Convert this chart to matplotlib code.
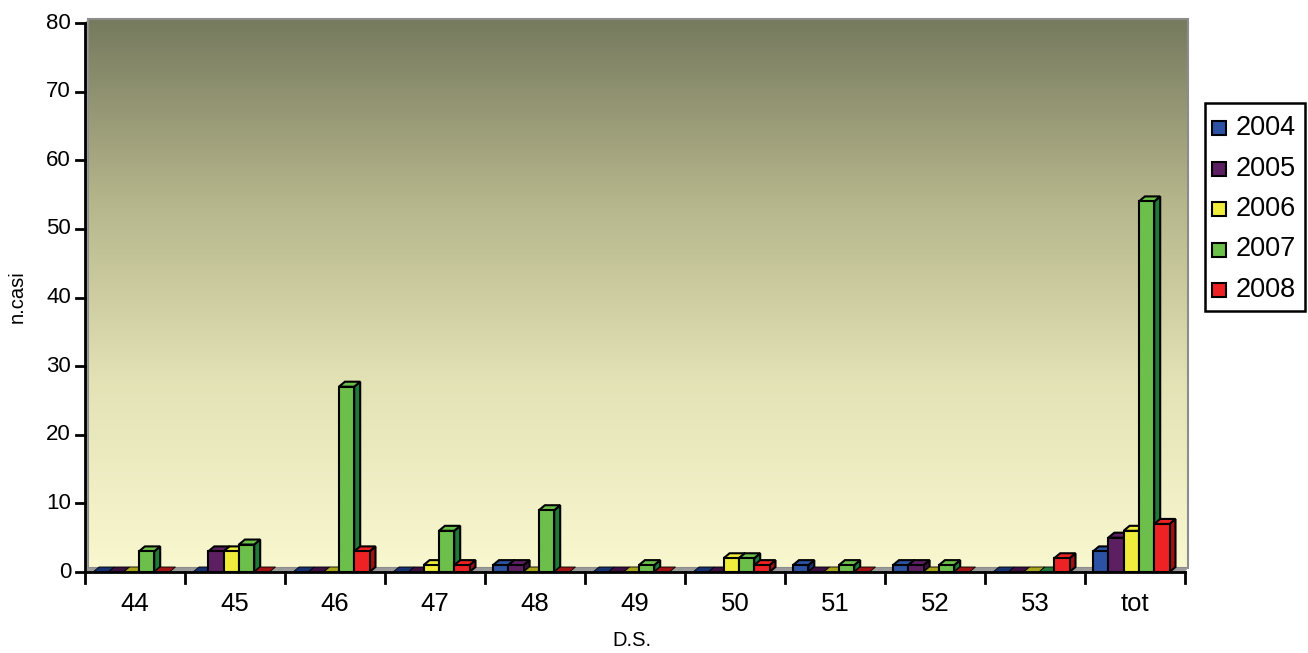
import numpy as np
import matplotlib
matplotlib.use("Agg")
import matplotlib.pyplot as plt
from matplotlib.patches import Polygon, Rectangle
from matplotlib.colors import LinearSegmentedColormap

plt.rcParams['font.family'] = ['Liberation Sans', 'DejaVu Sans']

# ---- data: cases per week (D.S.) and year ----
weeks = ['44', '45', '46', '47', '48', '49', '50', '51', '52', '53', 'tot']
years = ['2004', '2005', '2006', '2007', '2008']
cases_2004 = [0, 0, 0, 0, 1, 0, 0, 1, 1, 0, 3]
cases_2005 = [0, 3, 0, 0, 1, 0, 0, 0, 1, 0, 5]
cases_2006 = [0, 3, 0, 1, 0, 0, 2, 0, 0, 0, 6]
cases_2007 = [3, 4, 27, 6, 9, 1, 2, 1, 1, 0, 54]
cases_2008 = [0, 0, 3, 1, 0, 0, 1, 0, 0, 2, 7]
series = [cases_2004, cases_2005, cases_2006, cases_2007, cases_2008]

front_cols = ['#2d52a3', '#5c1f62', '#f0ec3c', '#6cbf4a', '#ee2224']
side_cols = ['#173070', '#3a0f40', '#a8a41c', '#1f7a3a', '#a01214']
y_ticks = np.arange(0, 81, 10)

W, H = 1308, 653
fig = plt.figure(figsize=(W / 100, H / 100), dpi=100)

# axes mapped so that 1 category = 100 px and 80 cases = 549 px
x_lo, x_hi = -0.1, 11.1
y_lo, y_hi = -0.5, 81.0
ppu_y = 549 / 80
left_px = 85 + x_lo * 100
bottom_px = 572 - y_lo * ppu_y
top_px = 572 - y_hi * ppu_y
ax = fig.add_axes([left_px / W, (H - bottom_px) / H,
                   (x_hi - x_lo) * 100 / W, (bottom_px - top_px) / H])
ax.set_xlim(x_lo, x_hi)
ax.set_ylim(y_lo, y_hi)
ax.axis('off')

n = len(weeks)
wdx, wdy = 0.03, 0.6       # wall depth
bdx, bdy = 0.06, 0.73      # bar depth
bw = 0.153

# back wall with gradient
grad = LinearSegmentedColormap.from_list('wall', ['#f8f7cf', '#e4e3b6', '#b6b68c', '#767a5e'])
ax.imshow(np.linspace(0, 1, 256).reshape(-1, 1), cmap=grad, origin='lower',
          extent=(wdx, n + wdx, wdy, 80 + wdy), aspect='auto', zorder=0)
ax.add_patch(Rectangle((wdx, wdy), n, 80, fill=False, edgecolor='#8c8c8c', lw=1.5, zorder=1))
# left side wall and floor
ax.add_patch(Polygon([(0, 0), (0, 80), (wdx, 80 + wdy), (wdx, wdy)],
                     facecolor='#9a9a9a', edgecolor='none', zorder=1))
ax.add_patch(Polygon([(0, 0), (n, 0), (n + wdx, wdy), (wdx, wdy)],
                     facecolor='#9a9a9a', edgecolor='none', zorder=1))

# 3d bars
z = 2
for g in range(n):
    for k, vals in enumerate(series):
        h = vals[g]
        x0 = g + 0.08 + k * bw
        top = [(x0, h), (x0 + bw, h), (x0 + bw + bdx, h + bdy), (x0 + bdx, h + bdy)]
        if h == 0:
            ax.add_patch(Polygon(top, facecolor=side_cols[k], edgecolor='black', lw=0.6, zorder=z))
        else:
            ax.add_patch(Rectangle((x0, 0), bw, h, facecolor=front_cols[k],
                                   edgecolor='black', lw=1.5, zorder=z + 0.2))
            side = [(x0 + bw, 0), (x0 + bw + bdx, bdy), (x0 + bw + bdx, h + bdy), (x0 + bw, h)]
            ax.add_patch(Polygon(side, facecolor=side_cols[k], edgecolor='black', lw=1.5, zorder=z))
            ax.add_patch(Polygon(top, facecolor=front_cols[k], edgecolor='black', lw=1.5, zorder=z + 0.1))
        z += 1

# axes lines, ticks and labels
ax.plot([0, 0], [0, 80], color='black', lw=2, zorder=z, clip_on=False)
ax.plot([0, n], [0, 0], color='black', lw=2, zorder=z, clip_on=False)
for t in y_ticks:
    ax.plot([-0.09, 0], [t, t], color='black', lw=2, clip_on=False, zorder=z)
    ax.text(-0.14, t, str(t), ha='right', va='center', fontsize=16)
for i in range(n + 1):
    ax.plot([i, i], [0, -11 / ppu_y], color='black', lw=2, clip_on=False, zorder=z)
for i, lab in enumerate(weeks):
    ax.text(i + 0.5, -32 / ppu_y, lab, ha='center', va='center', fontsize=18.5)

fig.text(632 / W, 1 - 641 / H, 'D.S.', ha='center', va='center', fontsize=14.5)
fig.text(17 / W, 1 - 297 / H, 'n.casi', ha='center', va='center', fontsize=14.5, rotation=90)

# legend
fig.add_artist(Rectangle((1205 / W, 1 - 311 / H), 100 / W, 208 / H, transform=fig.transFigure,
                         facecolor='white', edgecolor='black', lw=1.8))
for k, yr in enumerate(years):
    cy = 128 + k * 40.5
    fig.add_artist(Rectangle((1212 / W, 1 - (cy + 7) / H), 14 / W, 14 / H, transform=fig.transFigure,
                             facecolor=front_cols[k], edgecolor='black', lw=1.5))
    fig.text(1236 / W, 1 - cy / H, yr, ha='left', va='center', fontsize=19.5)

fig.savefig('out.png', dpi=100)
